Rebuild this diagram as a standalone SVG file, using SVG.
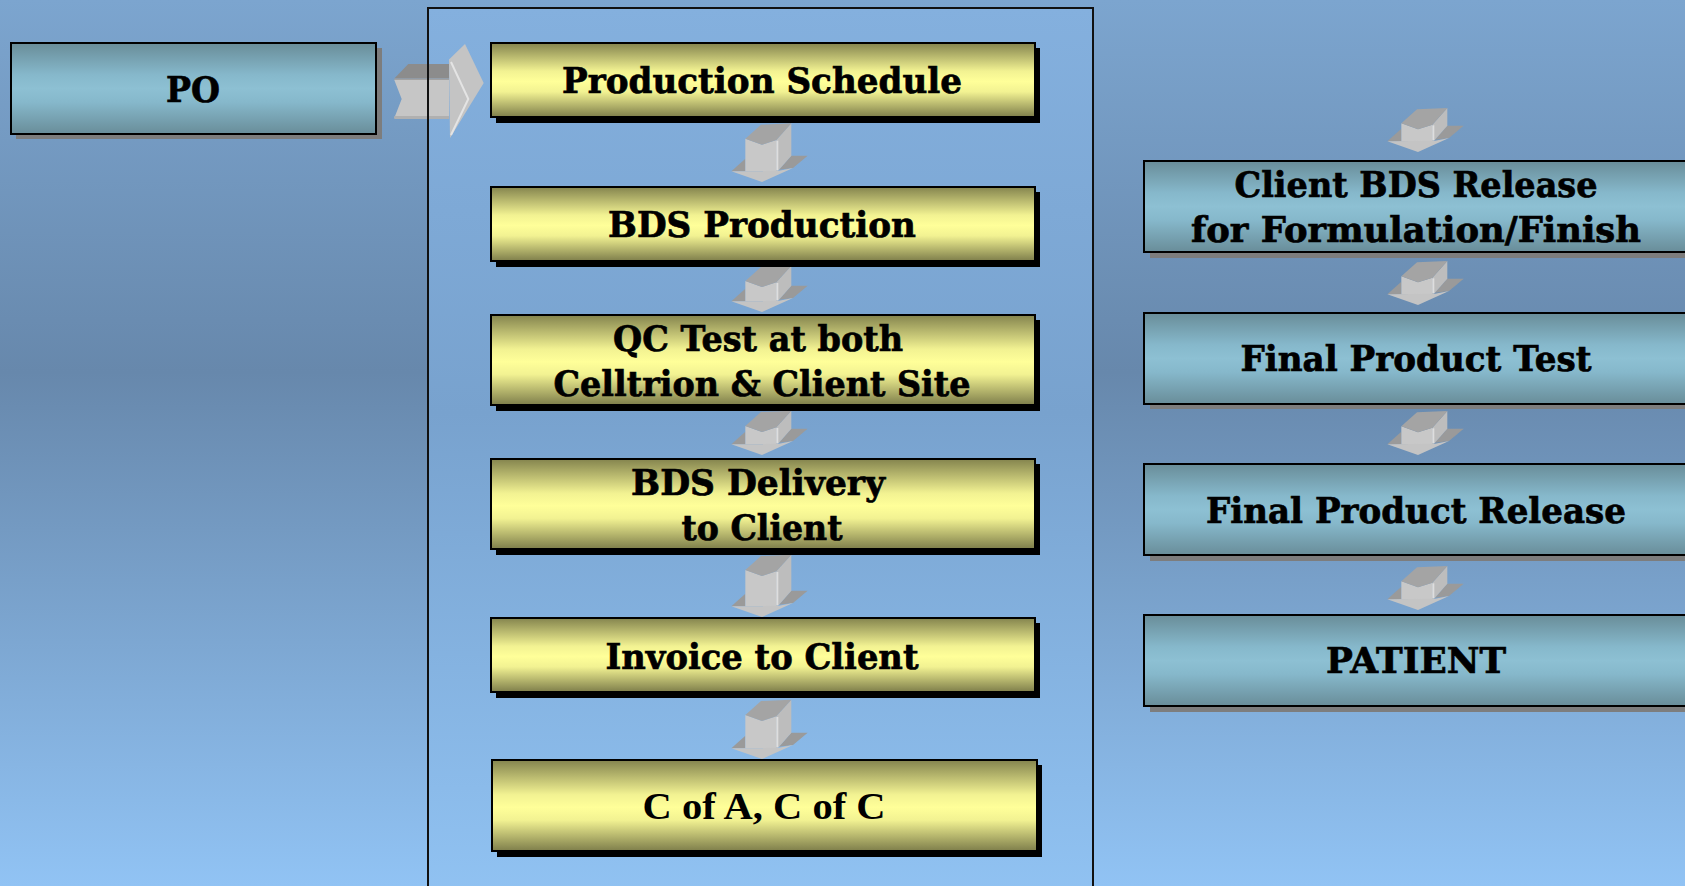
<svg xmlns="http://www.w3.org/2000/svg" width="1685" height="886" viewBox="0 0 1685 886">
<defs>
<linearGradient id="bg" x1="0" y1="0" x2="0" y2="1">
<stop offset="0" stop-color="#7ca5cf"/>
<stop offset="0.42" stop-color="#6788ac"/>
<stop offset="1" stop-color="#91c3f4"/>
</linearGradient>
<linearGradient id="panel" x1="0" y1="0" x2="0" y2="1">
<stop offset="0" stop-color="#84b0de"/>
<stop offset="0.45" stop-color="#78a2ce"/>
<stop offset="1" stop-color="#91c3f3"/>
</linearGradient>
<linearGradient id="yel" x1="0" y1="0" x2="0" y2="1">
<stop offset="0" stop-color="#84844e"/>
<stop offset="0.38" stop-color="#f2f292"/>
<stop offset="0.52" stop-color="#ffff99"/>
<stop offset="0.66" stop-color="#f2f292"/>
<stop offset="1" stop-color="#7e7e4b"/>
</linearGradient>
<linearGradient id="teal" x1="0" y1="0" x2="0" y2="1">
<stop offset="0" stop-color="#698d99"/>
<stop offset="0.35" stop-color="#86b8cb"/>
<stop offset="0.5" stop-color="#8dc0d3"/>
<stop offset="0.65" stop-color="#86b8cb"/>
<stop offset="1" stop-color="#698d99"/>
</linearGradient>
</defs>
<style>
.t{font-family:"DejaVu Serif","Liberation Serif",serif;font-weight:bold;font-size:36px;fill:#000;stroke:#000;stroke-width:0.7;text-anchor:middle}
.t2{font-family:"Liberation Serif","Times New Roman",serif;font-weight:bold;font-size:37px;fill:#000;text-anchor:middle}
.ybox{fill:url(#yel);stroke:#000;stroke-width:2}
.yshadow{fill:#000}
.tbox{fill:url(#teal);stroke:#000;stroke-width:2}
.tshadow{fill:#7d7d7d}
.top{fill:#a4a4a4}
.front{fill:#c8c8c8}
.side{fill:#bdbdbd}
.wing{fill:#9a9a9a}
.head{fill:#c4c4c4}
.hl{stroke:#dedede;stroke-width:6;fill:none}
</style>
<rect x="0" y="0" width="1685" height="886" fill="url(#bg)"/>
<rect id="panel-bg" x="428" y="8" width="665" height="900" fill="url(#panel)"/>

<g id="connectors">
<g id="arrow-po">
<polygon points="394.3,78.5 408.3,64 449,64 449,78.5" fill="#8c8c8c"/>
<polygon points="394.3,78.5 449,78.5 449,80 394.3,80" fill="#a2a2a2"/>
<polygon points="394.3,80 449,80 449,118 394.3,118 401.7,99" fill="#c6c6c6"/>
<polygon points="394.3,116 449,116 449,119 394.3,119" fill="#b0b0b0"/>
<polygon points="449,59.5 465,44 483.7,83 450,138" fill="#c4c4c4"/>
<polyline points="451,62 468.3,99 451,135" stroke="#e4e4e4" stroke-width="2" fill="none"/>
</g>
<g id="arrow-1" transform="translate(762,182) scale(0.3333)">
<polygon class="wing" points="-92,-32 -50,-70 -50,-32"/>
<polygon class="wing" points="51,-37 88,-79 137,-79 93,-42"/>
<polygon class="front" points="-50,-130 0,-112 43,-126 43,-32 -50,-32"/>
<polygon class="side" points="43,-126 88,-176 88,-79 51,-37 43,-32"/>
<line class="hl" x1="46" y1="-124" x2="46" y2="-35"/>
<polygon class="top" points="-50,-130 -3,-172 88,-176 43,-126 0,-112"/>
<polygon class="head" points="-92,-32 51,-34 93,-42 0,0"/>
</g>
<g id="arrow-2" transform="translate(762,312) scale(0.3333)">
<polygon class="wing" points="-92,-32 -50,-70 -50,-32"/>
<polygon class="wing" points="51,-37 88,-79 137,-79 93,-42"/>
<polygon class="front" points="-50,-93 0,-75 43,-89 43,-32 -50,-32"/>
<polygon class="side" points="43,-89 88,-139 88,-79 51,-37 43,-32"/>
<line class="hl" x1="46" y1="-87" x2="46" y2="-35"/>
<polygon class="top" points="-50,-93 -3,-135 88,-139 43,-89 0,-75"/>
<polygon class="head" points="-92,-32 51,-34 93,-42 0,0"/>
</g>
<g id="arrow-3" transform="translate(762,455) scale(0.3333)">
<polygon class="wing" points="-92,-32 -50,-70 -50,-32"/>
<polygon class="wing" points="51,-37 88,-79 137,-79 93,-42"/>
<polygon class="front" points="-50,-87 0,-69 43,-83 43,-32 -50,-32"/>
<polygon class="side" points="43,-83 88,-133 88,-79 51,-37 43,-32"/>
<line class="hl" x1="46" y1="-81" x2="46" y2="-35"/>
<polygon class="top" points="-50,-87 -3,-129 88,-133 43,-83 0,-69"/>
<polygon class="head" points="-92,-32 51,-34 93,-42 0,0"/>
</g>
<g id="arrow-4" transform="translate(762,617) scale(0.3333)">
<polygon class="wing" points="-92,-32 -50,-70 -50,-32"/>
<polygon class="wing" points="51,-37 88,-79 137,-79 93,-42"/>
<polygon class="front" points="-50,-141 0,-123 43,-137 43,-32 -50,-32"/>
<polygon class="side" points="43,-137 88,-187 88,-79 51,-37 43,-32"/>
<line class="hl" x1="46" y1="-135" x2="46" y2="-35"/>
<polygon class="top" points="-50,-141 -3,-183 88,-187 43,-137 0,-123"/>
<polygon class="head" points="-92,-32 51,-34 93,-42 0,0"/>
</g>
<g id="arrow-5" transform="translate(762,759) scale(0.3333)">
<polygon class="wing" points="-92,-32 -50,-70 -50,-32"/>
<polygon class="wing" points="51,-37 88,-79 137,-79 93,-42"/>
<polygon class="front" points="-50,-132 0,-114 43,-128 43,-32 -50,-32"/>
<polygon class="side" points="43,-128 88,-178 88,-79 51,-37 43,-32"/>
<line class="hl" x1="46" y1="-126" x2="46" y2="-35"/>
<polygon class="top" points="-50,-132 -3,-174 88,-178 43,-128 0,-114"/>
<polygon class="head" points="-92,-32 51,-34 93,-42 0,0"/>
</g>
<g id="arrow-r1" transform="translate(1418,152) scale(0.3333)">
<polygon class="wing" points="-92,-32 -50,-70 -50,-32"/>
<polygon class="wing" points="51,-37 88,-79 137,-79 93,-42"/>
<polygon class="front" points="-50,-86 0,-68 43,-82 43,-32 -50,-32"/>
<polygon class="side" points="43,-82 88,-132 88,-79 51,-37 43,-32"/>
<line class="hl" x1="46" y1="-80" x2="46" y2="-35"/>
<polygon class="top" points="-50,-86 -3,-128 88,-132 43,-82 0,-68"/>
<polygon class="head" points="-92,-32 51,-34 93,-42 0,0"/>
</g>
<g id="arrow-r2" transform="translate(1418,305) scale(0.3333)">
<polygon class="wing" points="-92,-32 -50,-70 -50,-32"/>
<polygon class="wing" points="51,-37 88,-79 137,-79 93,-42"/>
<polygon class="front" points="-50,-86 0,-68 43,-82 43,-32 -50,-32"/>
<polygon class="side" points="43,-82 88,-132 88,-79 51,-37 43,-32"/>
<line class="hl" x1="46" y1="-80" x2="46" y2="-35"/>
<polygon class="top" points="-50,-86 -3,-128 88,-132 43,-82 0,-68"/>
<polygon class="head" points="-92,-32 51,-34 93,-42 0,0"/>
</g>
<g id="arrow-r3" transform="translate(1418,455) scale(0.3333)">
<polygon class="wing" points="-92,-32 -50,-70 -50,-32"/>
<polygon class="wing" points="51,-37 88,-79 137,-79 93,-42"/>
<polygon class="front" points="-50,-86 0,-68 43,-82 43,-32 -50,-32"/>
<polygon class="side" points="43,-82 88,-132 88,-79 51,-37 43,-32"/>
<line class="hl" x1="46" y1="-80" x2="46" y2="-35"/>
<polygon class="top" points="-50,-86 -3,-128 88,-132 43,-82 0,-68"/>
<polygon class="head" points="-92,-32 51,-34 93,-42 0,0"/>
</g>
<g id="arrow-r4" transform="translate(1418,610) scale(0.3333)">
<polygon class="wing" points="-92,-32 -50,-70 -50,-32"/>
<polygon class="wing" points="51,-37 88,-79 137,-79 93,-42"/>
<polygon class="front" points="-50,-86 0,-68 43,-82 43,-32 -50,-32"/>
<polygon class="side" points="43,-82 88,-132 88,-79 51,-37 43,-32"/>
<line class="hl" x1="46" y1="-80" x2="46" y2="-35"/>
<polygon class="top" points="-50,-86 -3,-128 88,-132 43,-82 0,-68"/>
<polygon class="head" points="-92,-32 51,-34 93,-42 0,0"/>
</g>
</g>

<rect id="panel" x="428" y="8" width="665" height="900" fill="none" stroke="#111" stroke-width="2"/>

<g id="po">
<rect class="tshadow" x="16" y="48" width="366" height="91"/>
<rect class="tbox" x="11" y="43" width="365" height="91"/>
<text class="t" x="193" y="102" textLength="54" lengthAdjust="spacingAndGlyphs">PO</text>
</g>

<g id="production-schedule">
<rect class="yshadow" x="496" y="48" width="544" height="75"/>
<rect class="ybox" x="491" y="43" width="544" height="74"/>
<text class="t" x="762" y="93" textLength="400" lengthAdjust="spacingAndGlyphs">Production Schedule</text>
</g>
<g id="bds-production">
<rect class="yshadow" x="496" y="192" width="544" height="75"/>
<rect class="ybox" x="491" y="187" width="544" height="74"/>
<text class="t" x="762" y="237" textLength="308" lengthAdjust="spacingAndGlyphs">BDS Production</text>
</g>
<g id="qc-test">
<rect class="yshadow" x="496" y="320" width="544" height="91"/>
<rect class="ybox" x="491" y="315" width="544" height="90"/>
<text class="t" x="758" y="351" textLength="290" lengthAdjust="spacingAndGlyphs">QC Test at both</text>
<text class="t" x="762" y="396" textLength="417" lengthAdjust="spacingAndGlyphs">Celltrion &amp; Client Site</text>
</g>
<g id="bds-delivery">
<rect class="yshadow" x="496" y="464" width="544" height="91"/>
<rect class="ybox" x="491" y="459" width="544" height="90"/>
<text class="t" x="758" y="495" textLength="254" lengthAdjust="spacingAndGlyphs">BDS Delivery</text>
<text class="t" x="762" y="540" textLength="161" lengthAdjust="spacingAndGlyphs">to Client</text>
</g>
<g id="invoice">
<rect class="yshadow" x="496" y="623" width="544" height="75"/>
<rect class="ybox" x="491" y="618" width="544" height="74"/>
<text class="t" x="762" y="669" textLength="313" lengthAdjust="spacingAndGlyphs">Invoice to Client</text>
</g>
<g id="cofa">
<rect class="yshadow" x="497" y="765" width="545" height="92"/>
<rect class="ybox" x="492" y="760" width="545" height="91"/>
<text class="t2" x="764" y="819" textLength="243" lengthAdjust="spacingAndGlyphs">C of A, C of C</text>
</g>

<g id="client-bds-release">
<rect class="tshadow" x="1150" y="166" width="560" height="92"/>
<rect class="tbox" x="1144" y="161" width="560" height="91"/>
<text class="t" x="1416" y="197" textLength="363" lengthAdjust="spacingAndGlyphs">Client BDS Release</text>
<text class="t" x="1416" y="242" textLength="450" lengthAdjust="spacingAndGlyphs">for Formulation/Finish</text>
</g>
<g id="final-product-test">
<rect class="tshadow" x="1150" y="318" width="560" height="91"/>
<rect class="tbox" x="1144" y="313" width="560" height="91"/>
<text class="t" x="1416" y="371" textLength="351" lengthAdjust="spacingAndGlyphs">Final Product Test</text>
</g>
<g id="final-product-release">
<rect class="tshadow" x="1150" y="469" width="560" height="92"/>
<rect class="tbox" x="1144" y="464" width="560" height="91"/>
<text class="t" x="1416" y="523" textLength="420" lengthAdjust="spacingAndGlyphs">Final Product Release</text>
</g>
<g id="patient">
<rect class="tshadow" x="1150" y="620" width="560" height="92"/>
<rect class="tbox" x="1144" y="615" width="560" height="91"/>
<text class="t" x="1416" y="673" textLength="180" lengthAdjust="spacingAndGlyphs">PATIENT</text>
</g>
</svg>
